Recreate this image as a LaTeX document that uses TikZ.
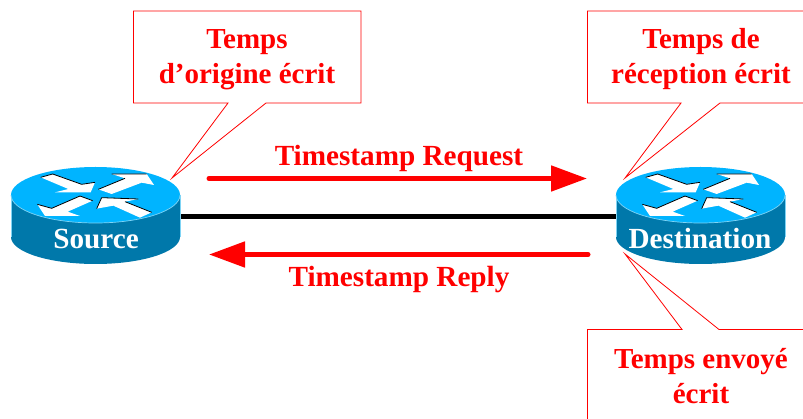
\documentclass[tikz,border=0pt]{standalone}
\usepackage{fontspec}
\setmainfont{Liberation Serif}
\usetikzlibrary{arrows.meta}
\definecolor{routertop}{HTML}{00B4FF}
\definecolor{routerside}{HTML}{0078AA}
\definecolor{routeredge}{HTML}{7FD4F5}
\tikzset{
  callout/.style={draw=red,line width=0.8pt,fill=white,line join=miter},
  calltext/.style={text=red,font=\bfseries\fontsize{29}{35}\selectfont,align=center,anchor=base,inner sep=0pt},
  flowlabel/.style={text=red,font=\bfseries\fontsize{29.2}{32}\selectfont,anchor=base,inner sep=0pt},
  routerlabel/.style={text=white,font=\bfseries\fontsize{29.2}{32}\selectfont,anchor=base,inner sep=0pt},
  flow/.style={red,line width=5pt,line cap=round,-{Triangle[length=36pt,width=25pt]}},
  link/.style={black,line width=5.5pt},
  routerbox/.style={minimum width=169pt,minimum height=96pt,inner sep=0pt},
  arrowshape/.style={fill=white,draw=none},
  arrowedge/.style={black,line width=0.8pt}
}
\newcommand{\routerart}[1]{%
  \begin{scope}[shift={(#1,0)}]
    \fill[routerside] (-84.5,195) -- (-84.5,237) arc[start angle=180,end angle=360,x radius=84.5,y radius=-27] -- (84.5,195) -- cycle;
    \draw[routeredge,line width=0.6pt] (-84.5,195) -- (-84.5,237);
    \draw[routeredge,line width=0.6pt] (84.5,195) -- (84.5,237);
    \fill[routertop] (0,195) ellipse[x radius=84.5,y radius=28];
    \draw[routeredge,line width=0.7pt] (-84.5,195) arc[start angle=180,end angle=360,x radius=84.5,y radius=-28];
    \begin{scope}[shift={(-95.5,150)},scale=0.33333]
      \fill[arrowshape] (122,82) -- (158,72) -- (245,103) -- (285,97) -- (272,127) -- (165,127) -- (205,117) -- cycle;
      \draw[arrowedge] (122,82) -- (158,72) -- (245,103) -- (285,97);
      \fill[arrowshape] (335,72) -- (440,72) -- (462,105) -- (425,98) -- (335,132) -- (295,118) -- (375,85) -- cycle;
      \draw[arrowedge] (335,72) -- (440,72) (375,85) -- (295,118);
      \fill[arrowshape] (112,163) -- (155,175) -- (240,138) -- (278,152) -- (203,185) -- (240,198) -- (135,198) -- cycle;
      \draw[arrowedge] (112,163) -- (155,175) -- (240,138) -- (278,152);
      \fill[arrowshape] (290,176) -- (305,143) -- (415,147) -- (375,155) -- (455,187) -- (420,203) -- (340,167) -- cycle;
      \draw[arrowedge] (290,176) -- (305,143) -- (415,147) (375,155) -- (455,187);
    \end{scope}
  \end{scope}}
\begin{document}
\begin{tikzpicture}[x=1pt,y=-1pt]
  \useasboundingbox (0,0) rectangle (803,419);
  \clip (0,0) rectangle (803,419);
  \fill[white] (0,0) rectangle (803,419);
  % routers
  \node[routerbox] (src) at (95.5,216.5) {};
  \node[routerbox] (dst) at (700.5,216.5) {};
  \draw[link] (src.east) -- (dst.west);
  \routerart{95.5}
  \routerart{700.5}
  \node[routerlabel] (srclabel) at (96,249) {Source};
  \node[routerlabel] (dstlabel) at (700,248.5) {Destination};
  % flows
  \coordinate (reqa) at (209,178.5);
  \coordinate (reqb) at (587,178.5);
  \coordinate (repa) at (588,254.5);
  \coordinate (repb) at (209,254.5);
  \draw[flow] (reqa) -- (reqb);
  \draw[flow] (repa) -- (repb);
  \node[flowlabel] (reqlabel) at (399,166) {Timestamp Request};
  \node[flowlabel] (replabel) at (399,287) {Timestamp Reply};
  % callouts
  \coordinate (tipa) at (172,178);
  \coordinate (tipb) at (625,178);
  \coordinate (tipc) at (625,254);
  \draw[callout] (133.5,11) -- (361,11) -- (361,103) -- (266,103) -- (tipa) -- (228,103) -- (133.5,103) -- cycle;
  \draw[callout] (587.5,11) -- (820,11) -- (820,103) -- (720,103) -- (tipb) -- (681,103) -- (587.5,103) -- cycle;
  \draw[callout] (587.5,329.5) -- (682,329.5) -- (tipc) -- (719,329.5) -- (820,329.5) -- (820,440) -- (587.5,440) -- cycle;
  \node[calltext] (ca) at (247,84) {Temps\\d’origine écrit};
  \node[calltext] (cb) at (701,84) {Temps de\\réception écrit};
  \node[calltext] (cc) at (701,403) {Temps envoyé\\écrit};
\end{tikzpicture}
\end{document}
